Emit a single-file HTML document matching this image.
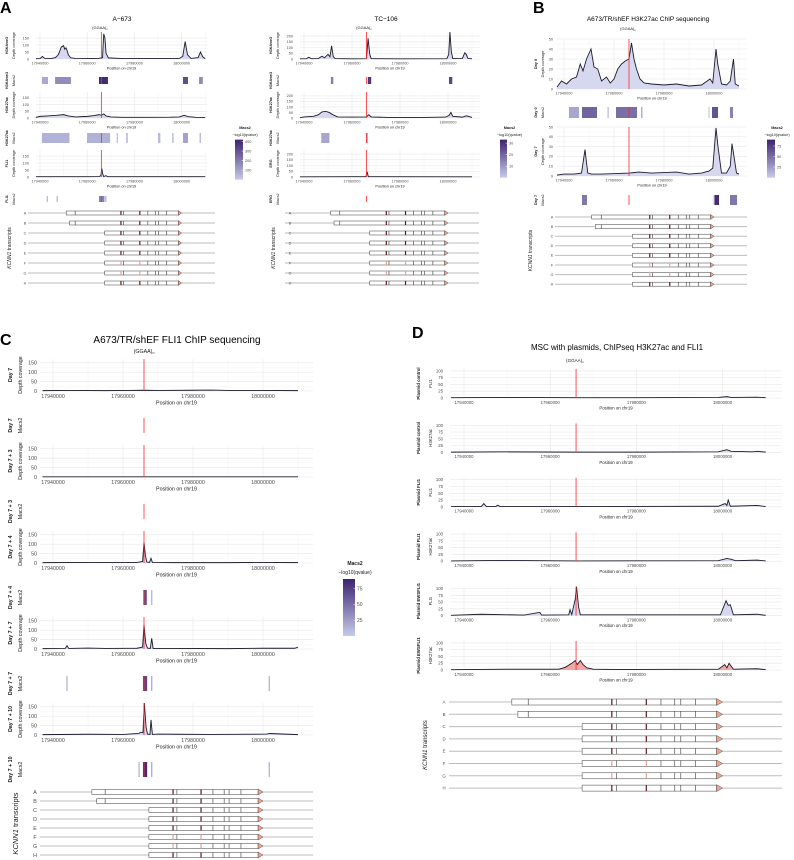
<!DOCTYPE html>
<html><head><meta charset="utf-8">
<style>
html,body{margin:0;padding:0;background:#fff;}
svg{display:block;font-family:"Liberation Sans",sans-serif;}
</style></head>
<body>
<svg id="fig" xmlns="http://www.w3.org/2000/svg" width="794" height="860" viewBox="0 0 794 860">
<text x="0" y="13" font-size="16" font-weight="bold">A</text>
<text x="533" y="13" font-size="16" font-weight="bold">B</text>
<text x="0" y="345" font-size="16" font-weight="bold">C</text>
<text x="412" y="338" font-size="16" font-weight="bold">D</text>
<text x="122" y="21" font-size="6.5" text-anchor="middle">A−673</text>
<text x="386" y="21" font-size="6.5" text-anchor="middle">TC−106</text>
<text x="648" y="21" font-size="6.5" text-anchor="middle">A673/TR/shEF H3K27ac ChIP sequencing</text>
<text x="177" y="343" font-size="10" text-anchor="middle">A673/TR/shEF FLI1 ChIP sequencing</text>
<text x="617" y="350" font-size="8" text-anchor="middle">MSC with plasmids, ChIPseq H3K27ac and FLI1</text>
</svg>
<script>
// ---------- data: coverage tracks (position kb, depth) ----------
const aL_k4_pos=[17937,17940,17941,17942,17945,17946.5,17947.5,17948,17949,17950,17950.5,17951,17951.5,17952,17953,17955,17960,17965,17966.5,17967,17967.5,17968,17969,17975,17990,17999,18000.5,18001.5,18002.5,18004,18007,18008,18009,18010];
const aL_k4_val=[2,3,18,5,4,10,25,40,85,95,70,80,60,30,8,4,3,5,10,180,150,40,8,3,3,3,20,125,30,4,10,50,15,3];
const aL_k27_pos=[17937,17940,17943,17947,17950,17952,17955,17960,17963,17965,17966,17967,17968,17970,17975,17985,17995,17999,18001,18003,18006,18010];
const aL_k27_val=[5,12,15,20,25,15,8,12,18,25,20,30,15,8,5,5,6,8,20,10,5,4];
const aL_fli_pos=[17937,17960,17965,17965.8,17966.2,17966.6,17967,17968,17968.5,17969,18010];
const aL_fli_val=[2,2,3,10,60,20,3,10,3,2,2];
const aR_k4_pos=[17937,17941,17942,17943,17946,17947.5,17948.5,17949.5,17950,17950.8,17951.5,17952.2,17953,17960,17966,17966.7,17967.4,17968,17980,17999.5,18000.3,18000.8,18001.4,18002,18006,18007,18007.6,18008.3,18010];
const aR_k4_val=[2,3,15,3,4,25,10,30,40,20,115,20,4,2,3,180,40,3,2,3,40,235,60,4,5,55,40,5,2];
const aR_k27_pos=[17937,17940,17944,17946,17947.5,17949,17950.5,17952,17954,17960,17966,17967,17968,17975,17990,17999,18000.5,18001.2,18002,18006,18007.5,18008.5,18010];
const aR_k27_val=[3,10,15,30,55,60,50,30,10,8,10,30,10,5,5,8,25,50,15,8,20,15,5];
const aR_erg_pos=[17937,17960,17965.8,17966.3,17966.8,18010];
const aR_erg_val=[2,3,3,45,3,2];
const b0_pos=[17937,17939,17941,17943,17945,17946.5,17947.6,17949,17950.8,17952,17953.5,17955,17957,17958.5,17960,17961.5,17963,17964.5,17966,17967,17968,17969,17970.4,17972,17975,17980,17985,17990,17995,17998.4,17999.5,18000.8,18001.5,18003,18005,18006.5,18007.2,18007.8,18008.5,18010];
const b0_val=[2,8,5,10,12,25,18,30,40,22,20,8,12,6,10,20,25,28,30,46,30,20,10,6,5,4,5,3,4,10,6,40,25,5,4,8,20,30,5,3];
const b7_pos=[17937,17940,17944,17947,17948.4,17949.5,17951,17955,17966,17970,17975,17985,17990,17995,17998,17999.5,18000.8,18001.6,18003,18005,18006.5,18007.2,18008,18009,18010];
const b7_val=[1,2,2,3,27,3,2,2,3,4,3,4,2,3,5,8,49,30,3,3,10,33,20,3,2];
const c1_pos=[17937,17945,17955,17966,17970,17980,17985,17990,18000,18010];
const c1_val=[2,3,2,4,3,4,5,3,3,2];
const c2_pos=[17937,17950,17966,17980,18000,18010];
const c2_val=[1,1,1,1,1,1];
const c3_pos=[17937,17950,17964,17965.6,17966,17966.4,17966.8,17967.6,17968,17968.4,17975,17990,18000,18010];
const c3_val=[2,3,3,8,110,40,5,3,25,3,2,2,3,2];
const c4_pos=[17937,17943.5,17944,17944.5,17950,17955,17964,17965.6,17966,17966.5,17967,17967.8,17968.2,17968.6,17975,17990,18000,18009,18010];
const c4_val=[2,3,18,3,5,3,4,10,130,30,5,3,57,3,3,2,4,4,10];
const c5_pos=[17937,17950,17960,17964.5,17965,17965.7,17966.1,17966.6,17967,17967.7,17968,17968.4,17970,17975,17985,18001,18002,18010];
const c5_val=[2,4,3,8,15,12,170,40,5,3,80,3,5,4,3,5,8,2];
const d1_pos=[17937,17950,17966,17980,17999,18001,18002,18008,18010];
const d1_val=[1,2,1,1,2,5,2,3,1];
const d2_pos=[17937,17950,17966,17980,17999,18001,18002,18007,18008,18010];
const d2_val=[1,2,1,1,2,10,4,2,4,1];
const d3_pos=[17937,17944,17944.6,17945.2,17947.4,17947.8,17948.4,17966,17999,18000.6,18001,18001.3,18001.8,18008,18010];
const d3_val=[1,1,12,1,1,6,1,1,2,12,5,25,2,5,1];
const d4_pos=[17937,17947.8,17966,17999,18001,18002,18003,18008,18010];
const d4_val=[1,3,1,2,10,7,2,4,1];
const d5_pos=[17937,17944,17954,17957.6,17958,17964.3,17964.6,17965,17965.8,17966.1,17966.6,17967,17999.5,18000.8,18001.3,18001.8,18002.5,18008,18010];
const d5_val=[1,5,2,12,2,3,22,4,60,107,30,3,3,55,38,40,3,5,1];
const d6_pos=[17937,17950,17962,17963.5,17965,17965.8,17966.3,17967,17967.6,17968.5,17970,17975,17999,18000.5,18001,18001.5,18002.5,18008,18010];
const d6_val=[1,3,3,10,25,35,20,35,20,8,3,2,3,20,8,25,3,5,1];
// ---------- data: Macs2 peaks (start kb, end kb, score) ----------
const aL_m1_s=[17940.8,17946.4,17965,18000.6,18007.4], aL_m1_e=[17943.4,17953.1,17968.8,18002.7,18009], aL_m1_v=[80,150,380,300,150];
const aL_m2_s=[17940.8,17959.9,17972.5,17976.5,17990,17996,18000.6,18007.6], aL_m2_e=[17952.5,17969.7,17973,17977.2,17991,17996.6,18002.7,18008.2], aL_m2_v=[60,60,40,40,40,40,100,40];
const aL_m3_s=[17942.8,17947,17965,17967.6], aL_m3_e=[17943.4,17947.6,17967.3,17968.2], aL_m3_v=[30,30,180,40];
const aR_m1_s=[17951.2,17966.6,18000.4], aR_m1_e=[17952.2,17968,18001.8], aR_m1_v=[15,28,25];
const aR_m2_s=[17947.2,17965.8], aR_m2_e=[17950.6,17966.6], aR_m2_v=[7,7];
const aR_m3_s=[], aR_m3_e=[], aR_m3_v=[];
const b_m1_s=[17942,17947.2,17957.4,17960.8,17970.8,17997.8,17999.2,18006.4], b_m1_e=[17946,17953.2,17957.9,17969.2,17971.4,17998.2,18001.6,18007.6], b_m1_v=[20,55,10,50,15,10,65,40];
const b_m2_s=[17947.2,17999.8,18000.2,18006.4], b_m2_e=[17949.2,18000.1,18002,18009.2], b_m2_v=[45,10,85,45];
const c_m3_s=[17965.8,17968], c_m3_e=[17966.8,17968.4], c_m3_v=[70,10];
const c_m4_s=[17943.8,17965.7,17968,18001.6], c_m4_e=[17944.2,17966.9,17968.4,18002], c_m4_v=[10,75,15,10];
const c_m5_s=[17964.4,17965.7,17968,18001.6], c_m5_e=[17964.8,17966.9,17968.4,18002], c_m5_v=[10,90,15,10];
// ---------- data: transcripts ----------
const txLabels=['A','B','C','D','E','F','G','H'];
const txStart=[17951.1,17952.5,17967.4,17967.4,17967.4,17967.4,17967.4,17967.4];
const exonLines=[17975.4,17985.7,17988.9,17990.3,17993.7];
const exonDark=[17974.3,17982.3];
const txEnd=17998.6, txTip=18000.0, ggaaPos=17966;
const xTicks=[17940,17960,17980,18000];

const svg=document.getElementById('fig');
const NS='http://www.w3.org/2000/svg';
function mk(tag,attrs,name,parent){const e=document.createElementNS(NS,tag);for(const k in attrs)e.setAttribute(k,attrs[k]);


(parent||svg).appendChild(e);return e;}
function txt(x,y,s,fs,name,extra){const t=mk('text',Object.assign({x:x,y:y,'font-size':fs,fill:'#4d4d4d'},extra||{}),name);t.textContent=s;return t;}
function rtxt(x,y,s,fs,name,bold,col){const t=mk('text',{x:0,y:0,'font-size':fs,'text-anchor':'middle',fill:col||'#1a1a1a','font-weight':bold?'bold':'normal',transform:'translate('+x+','+y+') rotate(-90)'},name);t.textContent=s;return t;}
function X(p,kb){return p.x0+(kb-17940)*p.ppk;}
function macsCol(v,max){const t=Math.min(1,v/max);const a=[198,203,234],b=[60,35,112];return 'rgb('+a.map((c,i)=>Math.round(c+(b[i]-c)*t)).join(',')+')';}

function plot(p,top,base,ymax,ticks,pos,val,l1,l2,fill){
  const Y=v=>base-(v/ymax)*(base-top);
  const g=mk('g',{},'coverage-track-'+l1.toLowerCase().replace(/[^a-z0-9]+/g,'-'));
  for(let k=17930;k<=18010;k+=10){const x=X(p,k);if(x<p.xL||x>p.xR)continue;
    const major=(k%20===0);mk('line',{x1:x,x2:x,y1:top,y2:base,stroke:major?'#e6e6e6':'#f1f1f1','stroke-width':major?0.6:0.4},'v-grid',g);}
  for(let i=0;i<ticks.length;i++){const y=Y(ticks[i]);mk('line',{x1:p.xL,x2:p.xR,y1:y,y2:y,stroke:'#e6e6e6','stroke-width':0.6},'h-grid',g);
    if(i<ticks.length-1){const ym=Y((ticks[i]+ticks[i+1])/2);mk('line',{x1:p.xL,x2:p.xR,y1:ym,y2:ym,stroke:'#f2f2f2','stroke-width':0.4},'h-minor-grid',g);}
    txt(p.tickX,y+p.fs*0.35,String(ticks[i]),p.fs,'y-tick-label',{'text-anchor':'end'});}
  let d='M'+X(p,pos[0])+','+base;
  for(let i=0;i<pos.length;i++){d+=' L'+Math.max(p.xL,Math.min(p.xR,X(p,pos[i]))).toFixed(2)+','+Y(val[i]).toFixed(2);}
  const line=d.replace(/^M[^L]*L/,'M');
  d+=' L'+X(p,pos[pos.length-1])+','+base+' Z';
  mk('path',{d:d,fill:fill||'#d6d8ef',stroke:'none'},'coverage-area',g);
  mk('path',{d:line,fill:'none',stroke:'#1c1c2c','stroke-width':0.9},'coverage-line',g);
  const rx=X(p,ggaaPos);mk('line',{x1:rx,x2:rx,y1:top,y2:base,stroke:'#ff2a2a','stroke-width':0.8},'ggaa-marker',g);
  for(const k of xTicks){txt(X(p,k),base+p.fs+1.5,String(k*1000),p.fs,'x-tick-label',{'text-anchor':'middle'});}
  txt((p.xL+p.xR)/2,base+2*p.fs+3,'Position on chr19',p.fs,'x-axis-title',{'text-anchor':'middle',fill:'#1a1a1a'});
  rtxt(p.lab1X,(top+base)/2,l1,p.fs,'track-label',true);
  rtxt(p.lab2X,(top+base)/2,l2,p.fs,'y-axis-title',false);
}
function macs(p,top,bot,s,e,v,max,l1){
  const g=mk('g',{},'macs2-track');
  for(let i=0;i<s.length;i++){const x1=X(p,s[i]),x2=X(p,e[i]);
    mk('rect',{x:x1,y:top,width:Math.max(0.8,x2-x1),height:bot-top,fill:macsCol(v[i],max)},'macs2-peak',g);}
  const rx=X(p,ggaaPos);mk('line',{x1:rx,x2:rx,y1:top,y2:bot,stroke:'#ff2a2a','stroke-width':0.8},'ggaa-marker',g);
  rtxt(p.lab1X,(top+bot)/2,l1,p.fs,'macs2-track-label',true);
  rtxt(p.lab2X,(top+bot)/2,'Macs2',p.fs,'macs2-axis-title',false);
}
function transcripts(p,y0,dy,lL,lR,bh,letX,kx,kfs){
  const g=mk('g',{},'transcript-track');
  for(let i=0;i<txLabels.length;i++){const y=y0+i*dy;
    mk('line',{x1:lL,x2:lR,y1:y,y2:y,stroke:'#bdbdbd','stroke-width':1},'transcript-line',g);
    const xs=X(p,txStart[i]),xe=X(p,txEnd);
    mk('rect',{x:xs,y:y-bh/2,width:xe-xs,height:bh,fill:'#fff',stroke:'#3a3a3a','stroke-width':0.5},'transcript-box',g);
    const lines=exonLines.slice();if(i<2)lines.push(17954.9);
    for(const k of lines){const x=X(p,k);mk('line',{x1:x,x2:x,y1:y-bh/2,y2:y+bh/2,stroke:'#3a3a3a','stroke-width':0.6},'exon-line',g);}
    for(const k of exonDark){const x=X(p,k);mk('rect',{x:x-0.6,y:y-bh/2,width:1.2,height:bh,fill:(i===5||i===6)?'#e3a196':'#5b1a24'},'exon-mark',g);}
    const xt=X(p,txTip);
    mk('polygon',{points:xe+','+(y-bh/2-0.5)+' '+xt+','+y+' '+xe+','+(y+bh/2+0.5),fill:'#f2a18c',stroke:'#3a3a3a','stroke-width':0.4},'transcript-end-arrow',g);
    txt(letX,y+p.fs*0.35,txLabels[i],p.fs,'transcript-letter',{'text-anchor':'middle'});}
  const yc=y0+dy*3.5;
  const t=mk('text',{x:0,y:0,'font-size':kfs,'text-anchor':'middle',fill:'#1a1a1a',transform:'translate('+kx+','+yc+') rotate(-90)'},'transcripts-axis-title');
  t.innerHTML='<tspan font-style="italic">KCNN1</tspan> transcripts';
}
function ggaa(x,y,fs){const t=mk('text',{x:x,y:y,'font-size':fs,'text-anchor':'middle',fill:'#1a1a1a'},'ggaa-label');t.innerHTML='(GGAA)<tspan font-size="'+(fs*0.65)+'" dy="1">n</tspan>';}
function legend(x,y,bw,bh,ticks,max,fs){
  txt(x+bw/2+6,y,'Macs2',fs,'legend-title',{'text-anchor':'middle','font-weight':'bold',fill:'#1a1a1a'});
  txt(x+bw/2+6,y+fs*1.8,'−log10(qvalue)',fs,'legend-subtitle',{'text-anchor':'middle',fill:'#1a1a1a'});
  const by=y+fs*2.8;
  const id='grad'+Math.round(x);
  const defs=mk('defs',{},'legend-defs');
  const lg=mk('linearGradient',{id:id,x1:0,y1:1,x2:0,y2:0},'legend-gradient',defs);
  mk('stop',{offset:0,'stop-color':macsCol(0,1)},'grad-stop',lg);mk('stop',{offset:1,'stop-color':macsCol(1,1)},'grad-stop',lg);
  mk('rect',{x:x,y:by,width:bw,height:bh,fill:'url(#'+id+')'},'legend-colorbar');
  for(const t of ticks){const yy=by+bh-(t/max)*bh;mk('line',{x1:x+bw-1.5,x2:x+bw,y1:yy,y2:yy,stroke:'#fff','stroke-width':0.5},'legend-tick');
    txt(x+bw+2,yy+fs*0.35,String(t),fs,'legend-tick-label');}
}

// ---------- Panel A left ----------
const pAL={x0:40,ppk:2.36,xL:36,xR:207,fs:3.8,tickX:29,lab1X:8,lab2X:15};
ggaa(100,29,4);
plot(pAL,32,59,193,[0,50,100,150],aL_k4_pos,aL_k4_val,'H3K4me3','Depth coverage');
macs(pAL,77,84,aL_m1_s,aL_m1_e,aL_m1_v,400,'H3K4me3');
plot(pAL,92,118,193,[0,50,100,150],aL_k27_pos,aL_k27_val,'H3K27ac','Depth coverage');
macs(pAL,133,143,aL_m2_s,aL_m2_e,aL_m2_v,400,'H3K27ac');
plot(pAL,150,177,193,[0,50,100,150],aL_fli_pos,aL_fli_val,'FLI1','Depth coverage');
macs(pAL,196,202,aL_m3_s,aL_m3_e,aL_m3_v,400,'FLI1');
transcripts(pAL,213,10,28,215,4,25,11,5);
legend(235,129,8,40,[100,200,300,400],420,3.8);
// ---------- Panel A right ----------
const pAR={x0:304,ppk:2.4,xL:300,xR:480,fs:3.8,tickX:293,lab1X:272,lab2X:279};
ggaa(364,29,4);
plot(pAR,32,59,235,[0,50,100,150,200],aR_k4_pos,aR_k4_val,'H3K4me3','Depth coverage');
macs(pAR,77,84,aR_m1_s,aR_m1_e,aR_m1_v,32,'H3K4me3');
plot(pAR,92,118,235,[0,50,100,150,200],aR_k27_pos,aR_k27_val,'H3K27ac','Depth coverage');
macs(pAR,133,143,aR_m2_s,aR_m2_e,aR_m2_v,32,'H3K27ac');
plot(pAR,150,177,235,[0,50,100,150,200],aR_erg_pos,aR_erg_val,'ERG','Depth coverage');
macs(pAR,196,202,aR_m3_s,aR_m3_e,aR_m3_v,32,'ERG');
transcripts(pAR,213,10,285,479,4,290,275,5);
legend(500,129,7,38,[10,20,30],33,3.8);
// ---------- Panel B ----------
const pB={x0:564,ppk:2.5,xL:557,xR:747,fs:3.8,tickX:553,lab1X:537,lab2X:544};
ggaa(628,30,4);
plot(pB,39,89,50,[0,10,20,30,40,50],b0_pos,b0_val,'Day 0','Depth coverage');
macs(pB,107,118,b_m1_s,b_m1_e,b_m1_v,90,'Day 0');
plot(pB,127,176,50,[0,10,20,30,40,50],b7_pos,b7_val,'Day 7','Depth coverage');
macs(pB,195,205,b_m2_s,b_m2_e,b_m2_v,90,'Day 7');
transcripts(pB,217,9.6,555,747,4,552,532,5);
legend(767,129,8,38,[25,50,75],90,3.8);
// ---------- Panel C ----------
const pC={x0:53,ppk:3.5,xL:40,xR:313,fs:5.3,tickX:37,lab1X:12,lab2X:22};
ggaa(144,353,5.3);
const cPos=[c1_pos,c2_pos,c3_pos,c4_pos,c5_pos], cVal=[c1_val,c2_val,c3_val,c4_val,c5_val];
const cLab=['Day 7','Day 7 + 3','Day 7 + 4','Day 7 + 7','Day 7 + 10'];
const cMs=[[],[],c_m3_s,c_m4_s,c_m5_s], cMe=[[],[],c_m3_e,c_m4_e,c_m5_e], cMv=[[],[],c_m3_v,c_m4_v,c_m5_v];
for(let i=0;i<5;i++){const base=391+86*i;
  plot(pC,base-32,base,170,[0,50,100,150],cPos[i],cVal[i],cLab[i],'Depth coverage');
  macs(pC,base+27,base+42,cMs[i],cMe[i],cMv[i],95,cLab[i]);}
transcripts(pC,792,9,40,313,5,35,18,7.5);
legend(343,565,12,57,[25,50,75],90,5);
// ---------- Panel D ----------
const pD={x0:464,ppk:4.31,xL:450,xR:782,fs:4.3,tickX:443,lab1X:420,lab2X:432};
ggaa(575,362,4.5);
const dPos=[d1_pos,d2_pos,d3_pos,d4_pos,d5_pos,d6_pos], dVal=[d1_val,d2_val,d3_val,d4_val,d5_val,d6_val];
const dL1=['Plasmid control','Plasmid control','Plasmid FLI1','Plasmid FLI1','Plasmid EWSFLI1','Plasmid EWSFLI1'];
const dL2=['FLI1','H3K27ac','FLI1','H3K27ac','FLI1','H3K27ac'];
for(let i=0;i<6;i++){const base=398+54.4*i;
  plot(pD,base-29,base,107,[0,25,50,75,100],dPos[i],dVal[i],dL1[i],dL2[i],i===5?'#f3a7a7':'#d6d8ef');}
transcripts(pD,702,12.3,449,782,6,444,427,6);
</script>
</body></html>
